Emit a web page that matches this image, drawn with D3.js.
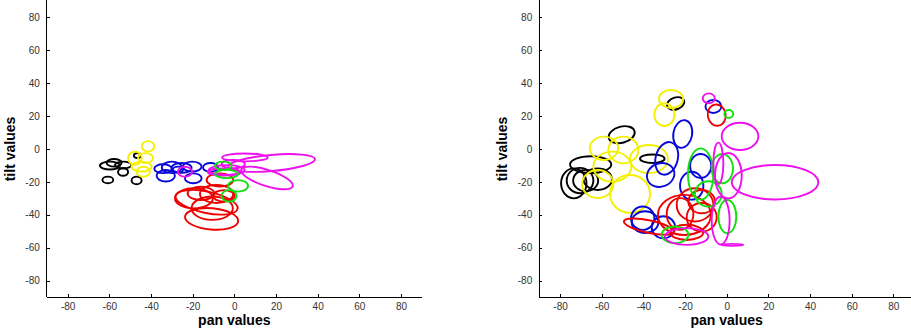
<!DOCTYPE html>
<html>
<head>
<meta charset="utf-8">
<style>
body {margin:0; background:#fff;}
svg {display:block; font-family:"Liberation Sans",Arial,sans-serif;}
.tick text {fill:#333; font-size:10px;}
.axis path, .axis line {stroke:#000; stroke-width:1; shape-rendering:crispEdges;}
.lab {font-weight:bold; font-size:14px; fill:#000;}
ellipse {fill:none; stroke-width:1.9;}
</style>
<script src="https://cdn.jsdelivr.net/npm/d3@7"></script>
</head>
<body>
<svg id="chart" width="911" height="332"></svg>
<script>
// tick values (degrees)
var panTicks=[-80,-60,-40,-20,0,20,40,60,80];
var tiltTicks=[-80,-60,-40,-20,0,20,40,60,80];

// ellipses: [pan, tilt, pan radius, tilt radius, rotation deg]
var leftBlack=[[-59.7,-10.1,4.8,2.4,0],[-57.7,-8.4,3.6,2.3,0],[-53.3,-9.7,4,2,0],
  [-53.4,-14,2.4,2.3,0],[-60.7,-18.8,2.6,2,0],[-46.9,-19.1,2.4,2.3,0],[-46.5,-4,1.7,1.5,0]];
var leftYellow=[[-41.4,1.6,3,3.2,0],[-47.7,-5.6,3.3,4,0],[-42.6,-5.5,3.6,3,0],
  [-44.5,-10.7,4.8,3,0],[-43.7,-13.8,3.2,3,0]];
var leftBlue=[[-34.2,-12,4.2,2.7,0],[-32.9,-16.3,4.4,3.5,0],[-30,-11.2,4.8,3.5,0],
  [-25.3,-11.5,4.8,3,0],[-20.2,-10.7,4.5,3,0],[-19.7,-17.8,4,3,0],[-11.4,-11.2,3.6,2.7,0],
  [-27,-12.5,2.5,1.8,0]];
var leftMagenta=[[5.1,-5.1,10.9,2.4,0],[17.9,-8.5,20.9,4.9,-5],[15.7,-17.6,13,4.9,18],
  [-3.6,-12.8,8.6,3,0],[-0.5,-9.2,5.6,2.5,0],[-23.7,-13.8,3.4,3,0],[-5,-14,7.7,2.1,0]];
var leftGreen=[[-5.3,-10.2,4,2.5,0],[-3.7,-15.2,5.5,2.5,0],[1.8,-22.4,4.8,3.5,0],
  [-2.5,-28.5,3.6,3.5,0]];
var leftRed=[[-19.4,-30,9.1,6.1,0],[-13.3,-32.4,15.2,6.5,12],[-10.9,-42.5,12.8,6.5,5],
  [-10.6,-36,9.9,7.1,0],[-8.5,-27.3,8,5.5,0],[-6.9,-18.8,6.4,4,0],[-5,-28.5,5.2,3.5,0],
  [-16,-27,6.4,4,0]];

var rightBlack=[[-50.4,8.7,6.4,4.9,-15],[-24.5,27.7,4.3,3.6,-20],[-35.7,-5.9,5.9,2.6,0],
  [-65.3,-9.5,9.9,5.1,0],[-73.4,-20.9,6.1,9.1,0],[-70.4,-19.2,6.4,7.7,0],
  [-67.7,-19.2,6,6.5,0],[-61.9,-18.4,6.8,6.5,0]];
var rightYellow=[[-26.7,30.4,5.8,5.5,0],[-29.9,20.9,4.8,6.9,0],[-58.9,0.4,6.8,7.1,0],
  [-49.6,-0.6,7.2,8.1,0],[-37.3,-6.1,9.1,8.5,0],[-54.9,-10.7,9.1,9.1,0],
  [-61.9,-21.3,7.5,8.5,0],[-46.4,-27.3,9.6,11.5,0]];
var rightBlue=[[-21.1,9.1,4.5,8.5,10],[-28.8,-5.7,5.3,10.1,15],[-31.7,-15.8,6.7,7.1,-20],
  [-12.5,-10.3,5.1,7.3,0],[-16.8,-22.3,5.6,8.5,0],[-6.4,25.9,3.8,4,0],
  [-40.3,-42.1,5.6,7.1,0],[-39.2,-44.5,6.4,6.6,0],[-30.4,-47.6,5.6,6.7,0]];
var rightRed=[[-4.8,20.6,4.3,6.5,-10],[-20.3,-40.1,12.7,12.2,0],[-15.2,-34,8.8,10.1,0],
  [-12,-41.5,7.2,8.7,0],[-22.4,-39.5,6.4,9.6,0],[-37.3,-47.2,12.3,3.8,12],
  [-19.2,-50.7,8,4.6,0],[-12,-32,6.4,7.1,0]];
var rightGreen=[[1,21.3,2.1,2.4,0],[-12.5,-15.2,6.1,15.6,0],[-2.1,-11.9,5.1,8.9,0],
  [0.3,-41.1,4.3,10.1,0],[-8.8,-27.3,6.4,7.7,0],[-24.8,-52.2,6.4,5.1,0]];
var rightMagenta=[[-8.6,30.8,2.9,3,0],[6.4,7.7,8.8,8.3,0],[23.2,-20.2,20.8,10.5,0],
  [-4,-8.7,2.4,12.6,0],[0.8,-16.2,6.4,13.8,0],[-2.9,-43.5,4.3,14.6,0],
  [-19.2,-53.2,10.4,5.1,0],[2.7,-58.3,5.3,0.6,0]];

var colors={black:'#000',yellow:'#f4f000',blue:'#0808d8',red:'#ee0000',green:'#10e010',magenta:'#ee10ee'};

var panels=[
  {x0:46.8, x1:421.8, series:[['black',leftBlack],['yellow',leftYellow],['blue',leftBlue],
    ['red',leftRed],['magenta',leftMagenta],['green',leftGreen]]},
  {x0:539.2, x1:914.2, series:[['black',rightBlack],['yellow',rightYellow],['blue',rightBlue],
    ['red',rightRed],['green',rightGreen],['magenta',rightMagenta]]}
];

var svg=d3.select('#chart');
var yScale=d3.scaleLinear().domain([-90,90]).range([297,1]);
var fmt=function(v){return String(v);}; // plain hyphen minus like the original

panels.forEach(function(p){
  var xScale=d3.scaleLinear().domain([-90,90]).range([p.x0,p.x1]);
  var g=svg.append('g');
  g.append('g').attr('class','axis').attr('transform','translate(0,297)')
   .call(d3.axisBottom(xScale).tickValues(panTicks).tickFormat(fmt).tickSizeInner(-3).tickSizeOuter(0).tickPadding(6))
   .call(function(a){a.select('.domain').attr('d','M'+p.x0+',0H'+Math.min(p.x1,911));});
  g.append('g').attr('class','axis').attr('transform','translate('+p.x0+',0)')
   .call(d3.axisLeft(yScale).tickValues(tiltTicks).tickFormat(fmt).tickSizeInner(-3).tickSizeOuter(0).tickPadding(7))
   .call(function(a){a.select('.domain').attr('d','M0,0V297');});
  g.selectAll('.tick text').attr('font-family','"Liberation Sans",Arial,sans-serif').attr('font-size',10);

  p.series.forEach(function(s){
    g.append('g').selectAll('ellipse').data(s[1]).enter().append('ellipse')
     .attr('stroke',colors[s[0]])
     .attr('cx',function(d){return xScale(d[0]);})
     .attr('cy',function(d){return yScale(d[1]);})
     .attr('rx',function(d){return xScale(d[0]+d[2])-xScale(d[0]);})
     .attr('ry',function(d){return yScale(d[1])-yScale(d[1]+d[3]);})
     .attr('transform',function(d){return 'rotate('+d[4]+','+xScale(d[0])+','+yScale(d[1])+')';});
  });

  g.append('text').attr('class','lab').attr('text-anchor','middle')
   .attr('x',xScale(0)).attr('y',325).text('pan values');
  g.append('text').attr('class','lab').attr('text-anchor','middle')
   .attr('transform','translate('+(p.x0-32)+','+yScale(0)+') rotate(-90)').text('tilt values');
});
</script>
</body>
</html>
